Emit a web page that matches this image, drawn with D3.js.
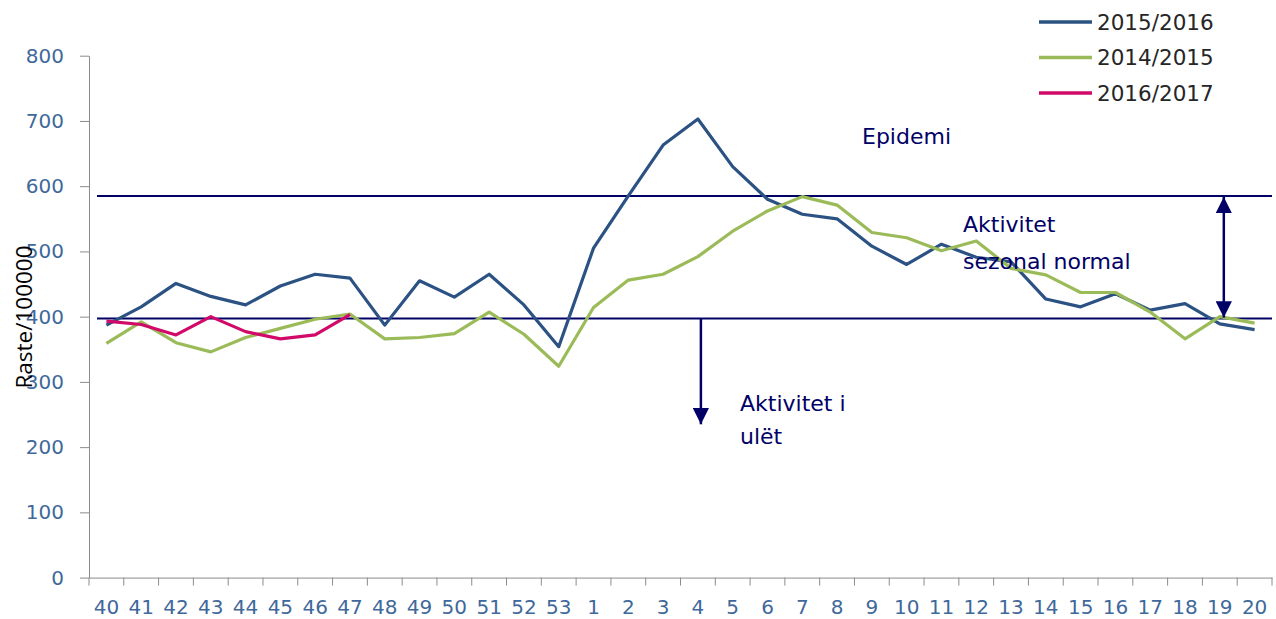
<!DOCTYPE html>
<html>
<head>
<meta charset="utf-8">
<script src="https://cdn.jsdelivr.net/npm/d3@7"></script>
<style>
  html, body { margin: 0; padding: 0; background: #fff; }
  svg { display: block; }
</style>
</head>
<body>
<svg id="chart" width="1276" height="619"></svg>
<script>
// ---- data ----
const weeks = ["40","41","42","43","44","45","46","47","48","49","50","51","52","53",
               "1","2","3","4","5","6","7","8","9","10","11","12","13","14","15","16","17","18","19","20"];
const s2015_2016 = [387,415,451,431,418,447,465,459,387,455,430,465,418,354,
                    505,585,663,703,630,580,557,550,508,480,511,491,484,427,415,435,410,420,389,380];
const s2014_2015 = [359,392,360,346,368,382,396,404,366,368,374,407,373,324,
                    414,456,465,492,531,562,584,571,529,521,501,516,474,464,437,437,407,366,400,390];
const s2016_2017 = [393,388,372,400,377,366,372,403];
const yTicks = [0,100,200,300,400,500,600,700,800];
const seriesNames = ["2015/2016","2014/2015","2016/2017"];
const seriesColors = ["#2b5283","#9bbb59","#d10a6a"];
const epidemicThreshold = 585;
const seasonalThreshold = 397;
const lowActivityTarget = 235;

// ---- layout ----
const svg = d3.select("#chart");
const x = d3.scaleBand().domain(weeks).range([89, 1272]).padding(0);
const y = d3.scaleLinear().domain([0, 800]).range([577.6, 55.7]);
const cx = w => x(w) + x.bandwidth() / 2;
const navy = "#000066";

// y axis
const yAxis = svg.append("g").attr("transform", "translate(89,0)")
  .call(d3.axisLeft(y).tickValues(yTicks).tickSize(9).tickPadding(16).tickSizeOuter(0));
yAxis.select(".domain").attr("stroke", "#8c8c8c");
yAxis.selectAll(".tick line").attr("stroke", "#8c8c8c");
yAxis.selectAll("text").attr("font-family", "DejaVu Sans").attr("font-size", 20).attr("fill", "#3f689b");

// x axis
const xAxis = svg.append("g").attr("transform", `translate(0,${y(0)})`)
  .call(d3.axisBottom(x).tickSize(0).tickSizeOuter(0));
xAxis.select(".domain").attr("stroke", "#8c8c8c");
xAxis.selectAll("text").attr("font-family", "DejaVu Sans").attr("font-size", 20)
  .attr("fill", "#3f689b").attr("y", 36.5).attr("dy", 0);
const bounds = weeks.map(w => x(w)).concat([x(weeks[weeks.length - 1]) + x.bandwidth()]);
svg.append("g").selectAll("line").data(bounds).join("line")
  .attr("x1", d => d).attr("x2", d => d)
  .attr("y1", y(0)).attr("y2", y(0) + 8)
  .attr("stroke", "#8c8c8c");

// y title
svg.append("text")
  .attr("transform", `translate(31.5,317) rotate(-90)`)
  .attr("text-anchor", "middle")
  .attr("font-family", "Open Sans").attr("font-size", 22.5).attr("fill", "#000")
  .text("Raste/100000");

// threshold lines
[epidemicThreshold, seasonalThreshold].forEach(v => {
  svg.append("line").attr("x1", 97).attr("x2", 1272)
    .attr("y1", y(v)).attr("y2", y(v))
    .attr("stroke", navy).attr("stroke-width", 2);
});

// series lines
const line = d3.line().x((d, i) => cx(weeks[i])).y(d => y(d));
[s2015_2016, s2014_2015, s2016_2017].forEach((s, k) => {
  svg.append("path").datum(s).attr("d", line)
    .attr("fill", "none").attr("stroke", seriesColors[k])
    .attr("stroke-width", 3.2).attr("stroke-linejoin", "round");
});

// arrows
const defs = svg.append("defs");
defs.append("marker").attr("id", "ah").attr("viewBox", "0 0 10 10")
  .attr("refX", 10).attr("refY", 5).attr("markerWidth", 6.5).attr("markerHeight", 6.5)
  .attr("markerUnits", "strokeWidth").attr("orient", "auto-start-reverse")
  .append("path").attr("d", "M0,0 L10,5 L0,10 Z").attr("fill", navy);

const ax1 = cx("4") + 3;
svg.append("line").attr("x1", ax1).attr("x2", ax1)
  .attr("y1", y(seasonalThreshold)).attr("y2", y(lowActivityTarget))
  .attr("stroke", navy).attr("stroke-width", 2.5).attr("marker-end", "url(#ah)");
const ax2 = cx("19") + 4;
svg.append("line").attr("x1", ax2).attr("x2", ax2)
  .attr("y1", y(epidemicThreshold) + 1).attr("y2", y(seasonalThreshold) - 1)
  .attr("stroke", navy).attr("stroke-width", 2.5)
  .attr("marker-start", "url(#ah)").attr("marker-end", "url(#ah)");

// annotations
const ann = (tx, ty, t) => svg.append("text").attr("x", tx).attr("y", ty)
  .attr("font-family", "DejaVu Sans").attr("font-size", 22).attr("fill", navy).text(t);
ann(862, 144, "Epidemi");
ann(963, 232, "Aktivitet");
ann(963, 269, "sezonal normal");
ann(740, 411, "Aktivitet i");
ann(740, 444, "ulët");

// legend
const lg = svg.append("g");
seriesNames.forEach((n, k) => {
  const ly = 22 + k * 35.5;
  lg.append("line").attr("x1", 1039).attr("x2", 1092).attr("y1", ly).attr("y2", ly)
    .attr("stroke", seriesColors[k]).attr("stroke-width", 3.5);
  lg.append("text").attr("x", 1097).attr("y", ly).attr("dy", "0.36em")
    .attr("font-family", "DejaVu Sans").attr("font-size", 21.5).attr("fill", "#262626").text(n);
});
</script>
</body>
</html>
